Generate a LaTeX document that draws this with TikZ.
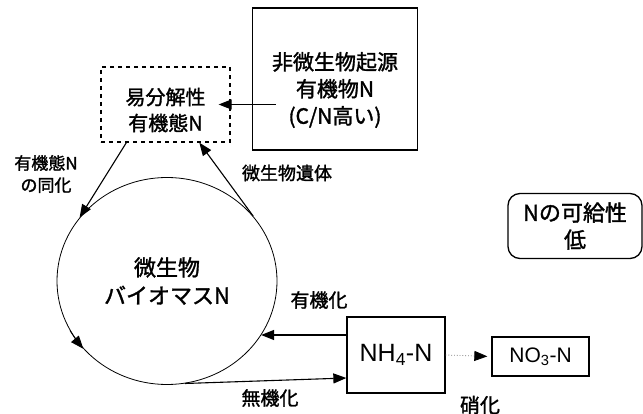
\documentclass[tikz,border=0pt]{standalone}
\usepackage{fontspec}
\setmainfont{Noto Sans CJK JP}[FakeBold=1.5]
\newfontfamily\latinsf{Liberation Sans}
\usetikzlibrary{arrows.meta,shapes.geometric}
\begin{document}
\begin{tikzpicture}[x=1pt,y=-1pt,
  >={Triangle[length=13pt,width=10pt]},
  solidbox/.style={draw, line width=1.3pt, inner sep=0pt, align=center},
  dbox/.style={draw, line width=1.3pt, dash pattern=on 4pt off 4pt, inner sep=0pt, align=center},
  lbl/.style={align=center, inner sep=0pt},
  arr/.style={->, line width=1.1pt}]
\useasboundingbox (0,0) rectangle (643,414);

\node[solidbox, minimum width=165pt, minimum height=142pt] (src) at (335,79) {};
\node[lbl, font=\fontsize{21}{27}\selectfont] (srct) at (335,90) {非微生物起源\\有機物N\\(C/N高い)};
\node[dbox, minimum width=129pt, minimum height=75pt] (easy) at (165.5,104.5) {};
\node[lbl, font=\fontsize{20}{26}\selectfont] (easyt) at (165.5,110) {易分解性\\有機態N};
\node[draw, ellipse, line width=0.8pt, minimum width=220pt, minimum height=207pt, inner sep=0pt,
      align=center, font=\fontsize{22}{28}\selectfont] (bio) at (167,281) {微生物\\バイオマスN};
\node[solidbox, minimum width=98pt, minimum height=76pt,
      font=\latinsf\fontsize{25}{28}\selectfont] (nh4) at (396,355) {NH\textsubscript{4}-N};
\node[solidbox, minimum width=97pt, minimum height=39pt,
      font=\latinsf\fontsize{21}{24}\selectfont] (no3) at (540.5,356.5) {NO\textsubscript{3}-N};
\node[solidbox, rounded corners=12pt, minimum width=134pt, minimum height=65pt,
      font=\fontsize{22}{27}\selectfont] (avail) at (575,226) {Nの可給性\\低};

\node[lbl, font=\fontsize{17}{22}\selectfont] (l1) at (46,174) {有機態N\\の同化};
\node[lbl, font=\fontsize{18}{22}\selectfont] (l2) at (287,173) {微生物遺体};
\node[lbl, font=\fontsize{19}{22}\selectfont] (l3) at (319,300) {有機化};
\node[lbl, font=\fontsize{19}{22}\selectfont] (l4) at (270,398) {無機化};
\node[lbl, font=\fontsize{20}{22}\selectfont] (l5) at (480,405) {硝化};

% source -> easy
\coordinate (s1) at ([xshift=24pt]src.west |- easy.east);
\draw[arr] (s1) -- ([xshift=-12pt]easy.east);
% easy -> biomass
\draw[arr] ([xshift=26pt]easy.south west) -- (bio.144);
% biomass -> easy
\draw[arr] (bio.37) -- ([xshift=99pt]easy.south west);
% arrowhead on the circle, lower left
\draw[arr, line width=0.8pt] (bio.207) to[bend right=4] (bio.219);
% immobilisation
\coordinate (o1) at ([yshift=20pt]nh4.west);
\draw[arr] (o1) -- (bio.-30 |- o1);
% mineralisation
\coordinate (i1) at ([yshift=-23pt]nh4.west);
\draw[arr] (bio.-80) -- (i1);
% nitrification
\draw[->, dotted, line width=0.8pt, gray, shorten >=4pt,
      >={Triangle[length=13pt,width=10pt,fill=black,color=black]}] (nh4.east) -- (no3.west);
\end{tikzpicture}
\end{document}
